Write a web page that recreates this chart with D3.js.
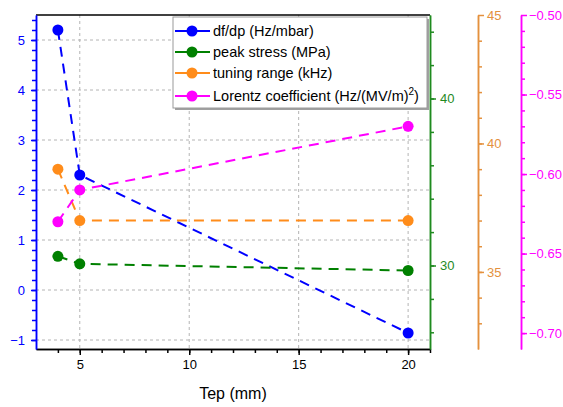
<!DOCTYPE html>
<html>
<head>
<meta charset="utf-8">
<script src="https://cdn.jsdelivr.net/npm/d3@7"></script>
<style>
  body { margin: 0; background: #fff; }
  text { font-family: "Liberation Sans", Arial, sans-serif; }
</style>
</head>
<body>
<script>
// Data
const tep = [4, 5, 20];
const dfdp = [5.2, 2.3, -0.86];
const peakStress = [30.55, 30.1, 29.7];
const tuningRange = [39.0, 37.0, 37.0];
const lorentz = [-0.630, -0.610, -0.570];

const seriesNames = ["df/dp (Hz/mbar)", "peak stress (MPa)", "tuning range (kHz)", "Lorentz coefficient (Hz/(MV/m)"];
const xTicks = [5, 10, 15, 20];
const leftTicks = [-1, 0, 1, 2, 3, 4, 5];
const greenTicks = [30, 40];
const orangeTicks = [35, 40, 45];
const magentaTicks = [-0.70, -0.65, -0.60, -0.55, -0.50];

const width = 563, height = 407;
const margin = { top: 15, right: 133, bottom: 58, left: 36 };
const plotRight = width - margin.right;
const plotBottom = height - margin.bottom;

const colors = { blue: "#0000ff", green: "#008000", orange: "#ff8c1a", magenta: "#ff00ff" };
const axisColors = { blue: "#0000ff", green: "#1f8a1f", orange: "#e4913e", magenta: "#ff00ff" };

const svg = d3.select("body").append("svg")
    .attr("width", width)
    .attr("height", height);

// Scales
const x = d3.scaleLinear().domain([3, 21]).range([margin.left, plotRight]);
const yLeft = d3.scaleLinear().domain([-1.18, 5.5]).range([plotBottom, margin.top]);
const yGreen = d3.scaleLinear().domain([25, 45]).range([plotBottom, margin.top]);
const yOrange = d3.scaleLinear().domain([32, 45]).range([plotBottom, margin.top]);
const yMag = d3.scaleLinear().domain([-0.71, -0.50]).range([plotBottom, margin.top]);

// Gridlines
const grid = svg.append("g")
    .attr("stroke", "#b4b4b4")
    .attr("stroke-width", 1)
    .attr("stroke-dasharray", "3,3");
grid.selectAll("line.h").data(leftTicks).join("line")
    .attr("x1", margin.left).attr("x2", plotRight)
    .attr("y1", d => yLeft(d)).attr("y2", d => yLeft(d));
grid.selectAll("line.v").data(xTicks).join("line")
    .attr("x1", d => x(d)).attr("x2", d => x(d))
    .attr("y1", margin.top).attr("y2", plotBottom);

// Top frame
svg.append("line")
    .attr("x1", margin.left).attr("x2", plotRight)
    .attr("y1", margin.top).attr("y2", margin.top)
    .attr("stroke", "#000").attr("stroke-width", 1.5);

// helper to style an axis
function styleAxis(g, color, fontSize) {
    g.attr("font-family", null);
    g.select(".domain").attr("stroke", color).attr("stroke-width", 1.5);
    g.selectAll(".tick line").attr("stroke", color).attr("stroke-width", 1.5);
    g.selectAll(".tick text").attr("fill", color)
        .style("font-family", "'Liberation Sans', Arial, sans-serif")
        .style("font-size", fontSize + "px");
}

// Bottom axis (minor + major)
svg.append("g")
    .attr("transform", `translate(0,${plotBottom})`)
    .call(d3.axisBottom(x).tickValues(d3.range(4, 22, 1)).tickFormat("").tickSize(4).tickSizeOuter(0))
    .call(g => styleAxis(g, "#000", 13));
svg.append("g")
    .attr("transform", `translate(0,${plotBottom})`)
    .call(d3.axisBottom(x).tickValues(xTicks).tickSize(6).tickPadding(5).tickSizeOuter(0))
    .call(g => styleAxis(g, "#000", 13));

// Left axis (blue)
svg.append("g")
    .attr("transform", `translate(${margin.left},0)`)
    .call(d3.axisLeft(yLeft).tickValues(d3.range(-1.0, 5.41, 0.2)).tickFormat("").tickSize(4).tickSizeOuter(0))
    .call(g => styleAxis(g, axisColors.blue, 13));
svg.append("g")
    .attr("transform", `translate(${margin.left},0)`)
    .call(d3.axisLeft(yLeft).tickValues(leftTicks).tickFormat(d3.format("d")).tickSize(5).tickPadding(6).tickSizeOuter(0))
    .call(g => styleAxis(g, axisColors.blue, 13));

// Green axis (right side of plot)
svg.append("g")
    .attr("transform", `translate(${plotRight},0)`)
    .call(d3.axisRight(yGreen).tickValues(d3.range(26, 45, 2)).tickFormat("").tickSize(4).tickSizeOuter(0))
    .call(g => styleAxis(g, axisColors.green, 13));
svg.append("g")
    .attr("transform", `translate(${plotRight},0)`)
    .call(d3.axisRight(yGreen).tickValues(greenTicks).tickSize(6).tickPadding(4).tickSizeOuter(0))
    .call(g => styleAxis(g, axisColors.green, 13));

// Orange axis
const orangeX = 478;
svg.append("g")
    .attr("transform", `translate(${orangeX},0)`)
    .call(d3.axisRight(yOrange).tickValues(d3.range(33, 45, 1)).tickFormat("").tickSize(4).tickSizeOuter(0))
    .call(g => styleAxis(g, axisColors.orange, 13));
svg.append("g")
    .attr("transform", `translate(${orangeX},0)`)
    .call(d3.axisRight(yOrange).tickValues(orangeTicks).tickSize(6).tickPadding(3).tickSizeOuter(0))
    .call(g => styleAxis(g, axisColors.orange, 13));

// Magenta axis
const magX = 521;
svg.append("g")
    .attr("transform", `translate(${magX},0)`)
    .call(d3.axisRight(yMag).tickValues(d3.range(-0.70, -0.5005, 0.01)).tickFormat("").tickSize(4).tickSizeOuter(0))
    .call(g => styleAxis(g, axisColors.magenta, 13));
svg.append("g")
    .attr("transform", `translate(${magX},0)`)
    .call(d3.axisRight(yMag).tickValues(magentaTicks).tickFormat(d3.format(".2f")).tickSize(6).tickPadding(2).tickSizeOuter(0))
    .call(g => styleAxis(g, axisColors.magenta, 13));

// X axis title
svg.append("text")
    .attr("x", x(12)).attr("y", 399)
    .attr("text-anchor", "middle")
    .style("font-size", "16px")
    .attr("fill", "#000")
    .text("Tep (mm)");

// Series
const series = [
    { values: dfdp, y: yLeft, color: colors.blue },
    { values: peakStress, y: yGreen, color: colors.green },
    { values: tuningRange, y: yOrange, color: colors.orange },
    { values: lorentz, y: yMag, color: colors.magenta }
];

series.forEach(s => {
    const pts = tep.map((t, i) => [t, s.values[i]]);
    const line = d3.line().x(d => x(d[0])).y(d => s.y(d[1]));
    svg.append("path")
        .datum(pts)
        .attr("fill", "none")
        .attr("stroke", s.color)
        .attr("stroke-width", 2)
        .attr("stroke-dasharray", "10,7")
        .attr("d", line);
});
series.forEach(s => {
    const pts = tep.map((t, i) => [t, s.values[i]]);
    svg.append("g").selectAll("circle")
        .data(pts)
        .join("circle")
        .attr("cx", d => x(d[0]))
        .attr("cy", d => s.y(d[1]))
        .attr("r", 5.5)
        .attr("fill", s.color);
});

// Legend
const legend = svg.append("g");
legend.append("rect")
    .attr("x", 175).attr("y", 19).attr("width", 254).attr("height", 91)
    .attr("fill", "#a0a0a0");
legend.append("rect")
    .attr("x", 173).attr("y", 17).attr("width", 254).attr("height", 91)
    .attr("fill", "#fff").attr("stroke", "#9a9a9a").attr("stroke-width", 1);

const legendY = [31, 52, 73, 96];
series.forEach((s, i) => {
    const row = legend.append("g").attr("transform", `translate(0,${legendY[i]})`);
    row.append("line")
        .attr("x1", 175).attr("x2", 210)
        .attr("stroke", s.color).attr("stroke-width", 2);
    row.append("circle").attr("cx", 192).attr("r", 5.5).attr("fill", s.color);
    const t = row.append("text")
        .attr("x", 213).attr("y", 5)
        .style("font-size", "14.5px")
        .attr("fill", "#000")
        .text(seriesNames[i]);
    if (i === 3) {
        t.append("tspan").attr("dy", -6).style("font-size", "10px").text("2");
        t.append("tspan").attr("dy", 6).text(")");
    }
});
</script>
</body>
</html>
